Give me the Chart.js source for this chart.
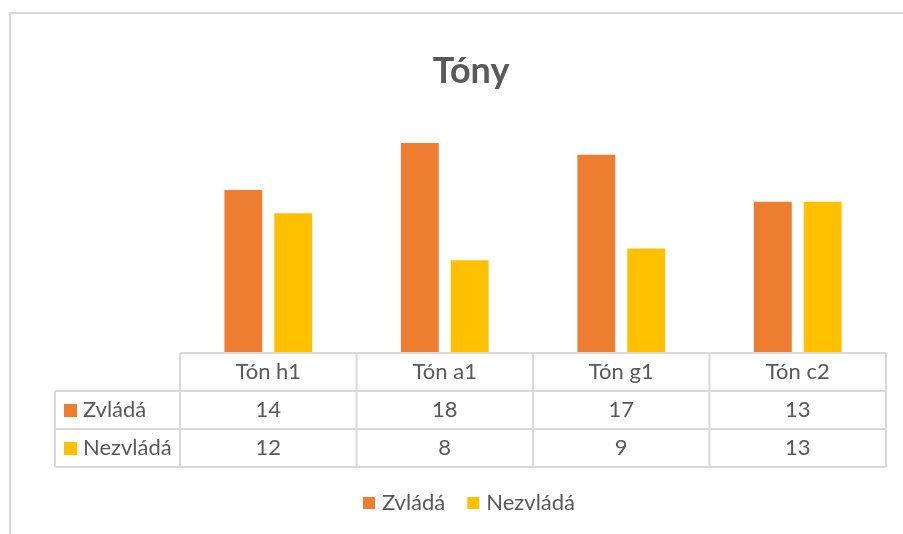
<!DOCTYPE html>
<html lang="cs">
<head>
    <meta charset="UTF-8">
    <title>Tóny</title>
    <script src="https://cdn.jsdelivr.net/npm/chart.js"></script>
    <style>
        body {
            margin: 0;
            padding: 0;
            background: #ffffff;
        }
        .chart-box {
            width: 903px;
            height: 534px;
            position: relative;
        }
    </style>
</head>
<body>
    <div class="chart-box">
        <canvas id="tonyChart"></canvas>
    </div>
    <script>
        // data
        const categories = ['Tón h1', 'Tón a1', 'Tón g1', 'Tón c2'];
        const zvlada = [14, 18, 17, 13];
        const nezvlada = [12, 8, 9, 13];
        const seriesNames = ['Zvládá', 'Nezvládá'];
        const seriesColors = ['#ED7D31', '#FFC000'];

        const fontName = 'Lato, "Open Sans", sans-serif';
        const textColor = '#595959';
        const lineColor = '#d9d9d9';

        // title, data table under the bars, legend and the outer frame
        const excelParts = {
            id: 'excelParts',
            afterDraw(chart) {
                const ctx = chart.ctx;
                const area = chart.chartArea;
                const xs = chart.scales.x;
                const rowH = 38;
                const colW = xs.getPixelForValue(1) - xs.getPixelForValue(0);
                const labelLeft = area.left - 125;
                ctx.save();

                // frame
                ctx.strokeStyle = lineColor;
                ctx.lineWidth = 2;
                ctx.strokeRect(10, 13, 960, 600);

                // title
                ctx.fillStyle = textColor;
                ctx.font = 'bold 36px ' + fontName;
                ctx.textAlign = 'center';
                ctx.textBaseline = 'alphabetic';
                ctx.fillText('Tóny', 471, 83);

                // table lines
                ctx.lineWidth = 2;
                ctx.strokeStyle = lineColor;
                ctx.beginPath();
                ctx.moveTo(area.left, area.bottom);
                ctx.lineTo(area.right, area.bottom);
                for (let r = 1; r <= 3; r++) {
                    ctx.moveTo(labelLeft, area.bottom + r * rowH);
                    ctx.lineTo(area.right, area.bottom + r * rowH);
                }
                ctx.moveTo(labelLeft, area.bottom + rowH);
                ctx.lineTo(labelLeft, area.bottom + 3 * rowH);
                for (let i = 0; i <= categories.length; i++) {
                    const x = xs.getPixelForValue(i) - colW / 2;
                    ctx.moveTo(x, area.bottom);
                    ctx.lineTo(x, area.bottom + 3 * rowH);
                }
                ctx.stroke();

                // table text
                ctx.font = '22px ' + fontName;
                ctx.fillStyle = textColor;
                ctx.textBaseline = 'middle';
                ctx.textAlign = 'center';
                categories.forEach((c, i) => {
                    const x = xs.getPixelForValue(i);
                    ctx.fillText(c, x, area.bottom + rowH / 2);
                    ctx.fillText(String(zvlada[i]), x, area.bottom + rowH * 1.5);
                    ctx.fillText(String(nezvlada[i]), x, area.bottom + rowH * 2.5);
                });
                ctx.textAlign = 'left';
                seriesNames.forEach((name, s) => {
                    const y = area.bottom + rowH * (s + 1.5);
                    ctx.fillStyle = seriesColors[s];
                    ctx.fillRect(labelLeft + 9, y - 6, 13, 13);
                    ctx.fillStyle = textColor;
                    ctx.fillText(name, labelLeft + 28, y);
                });

                // legend
                let lx = 363;
                const ly = 503;
                seriesNames.forEach((name, s) => {
                    ctx.fillStyle = seriesColors[s];
                    ctx.fillRect(lx, ly - 6, 12, 12);
                    ctx.fillStyle = textColor;
                    ctx.fillText(name, lx + 19, ly);
                    lx += 19 + ctx.measureText(name).width + 22;
                });

                ctx.restore();
            }
        };

        const ctx = document.getElementById('tonyChart').getContext('2d');
        const tonyChart = new Chart(ctx, {
            type: 'bar',
            data: {
                labels: categories,
                datasets: [
                    {
                        label: seriesNames[0],
                        data: zvlada,
                        backgroundColor: seriesColors[0],
                        borderColor: 'rgba(255,255,255,0.35)',
                        borderWidth: 1
                    },
                    {
                        label: seriesNames[1],
                        data: nezvlada,
                        backgroundColor: seriesColors[1],
                        borderColor: 'rgba(255,255,255,0.35)',
                        borderWidth: 1
                    }
                ]
            },
            options: {
                responsive: true,
                maintainAspectRatio: false,
                animation: false,
                layout: {
                    padding: { left: 180, right: 17, top: 118.6, bottom: 181 }
                },
                categoryPercentage: 0.565,
                barPercentage: 0.8,
                scales: {
                    x: { display: false },
                    y: { display: false, min: 0, max: 20 }
                },
                plugins: {
                    legend: { display: false },
                    title: { display: false },
                    tooltip: { enabled: false }
                }
            },
            plugins: [excelParts]
        });
    </script>
</body>
</html>
